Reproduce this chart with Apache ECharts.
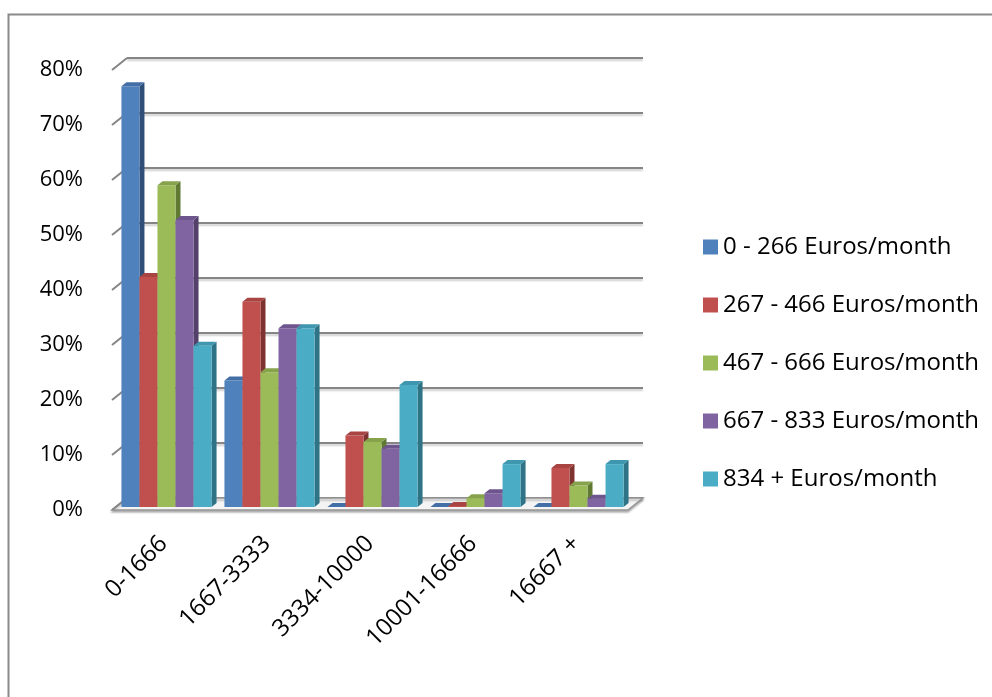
<!DOCTYPE html>
<html>
<head>
<meta charset="utf-8">
<script src="https://cdn.jsdelivr.net/npm/echarts@6/dist/echarts.min.js"></script>
<style>html,body{margin:0;padding:0;background:#fff}#c{width:992px;height:697px}</style>
</head>
<body>
<div id="c"></div>
<script>
var categories = ['0-1666', '1667-3333', '3334-10000', '10001-16666', '16667 +'];
var seriesNames = ['0 - 266 Euros/month', '267 - 466 Euros/month', '467 - 666 Euros/month', '667 - 833 Euros/month', '834 + Euros/month'];
var s0266 = [76.5, 23.0, 0, 0, 0];
var s267466 = [41.8, 37.3, 13.0, 0.2, 7.1];
var s467666 = [58.5, 24.5, 11.8, 1.6, 3.9];
var s667833 = [52.2, 32.5, 10.6, 2.5, 1.5];
var s834 = [29.3, 32.5, 22.2, 7.8, 7.8];
var yTicks = [0, 10, 20, 30, 40, 50, 60, 70, 80];

var seriesValues = [s0266, s267466, s467666, s667833, s834];
var frontColors = ['#4F81BD', '#C0504D', '#9BBB59', '#8064A2', '#4BACC6'];
var topColors = ['#436FA6', '#A84542', '#86A34C', '#6E558D', '#3E97AE'];
var sideColors = ['#2F4F78', '#7E3331', '#607A34', '#54416B', '#2E7386'];

var FONT = '"Open Sans", sans-serif';
var DX = 5, DY = 4;
var chart = echarts.init(document.getElementById('c'), null, {renderer: 'canvas'});

function barRenderer(idx) {
  return function (params, api) {
    var cat = api.value(0), val = api.value(1);
    var base = api.coord([cat, 0]);
    var top = api.coord([cat, val]);
    var band = api.size([1, 0])[0];
    var bw = band * 0.175;
    var x0 = base[0] - bw * 2.5 + idx * bw;
    var yb = base[1], yt = top[1];
    return {
      type: 'group',
      children: [
        {type: 'polygon', shape: {points: [[x0 + bw, yt], [x0 + bw + DX, yt - DY], [x0 + bw + DX, yb - DY], [x0 + bw, yb]]},
          style: {fill: sideColors[idx]}},
        {type: 'rect', shape: {x: x0, y: yt, width: bw, height: yb - yt}, style: {fill: frontColors[idx]}},
        {type: 'polygon', shape: {points: [[x0, yt], [x0 + DX, yt - DY], [x0 + bw + DX, yt - DY], [x0 + bw, yt]]},
          style: {fill: topColors[idx]}}
      ]
    };
  };
}

var series = [];
// back wall decoration: left wall diagonals + floor
series.push({
  type: 'custom', xAxisIndex: 1, yAxisIndex: 1, silent: true, z: 1,
  data: yTicks.map(function (t) { return [0, t]; }),
  renderItem: function (params, api) {
    var cs = params.coordSys;
    var p = api.coord([0, api.value(1)]);
    var x = cs.x, y = p[1];
    var children = [{type: 'line', shape: {x1: x, y1: y, x2: x - 15, y2: y + 12},
      style: {stroke: '#858585', lineWidth: 2}}];
    if (api.value(1) === 0) {
      children.unshift({type: 'polygon', shape: {points: [[x, y], [x + cs.width, y], [x + cs.width - 15, y + 12], [x - 15, y + 12]]},
        style: {fill: '#f4f4f4', stroke: '#949494', lineWidth: 1.5, shadowColor: 'rgba(0,0,0,0.25)', shadowOffsetY: 2, shadowBlur: 2}});
    }
    return {type: 'group', children: children};
  }
});
for (var i = 0; i < 5; i++) {
  series.push({
    name: seriesNames[i], type: 'custom', xAxisIndex: 2, yAxisIndex: 2, z: 3,
    itemStyle: {color: frontColors[i]},
    data: seriesValues[i].map(function (v, k) { return [k, v]; }),
    renderItem: barRenderer(i)
  });
}

chart.setOption({
  animation: false,
  backgroundColor: '#fff',
  graphic: [{type: 'rect', left: 6, top: 12, shape: {width: 1000, height: 700},
    style: {fill: 'none', stroke: '#8a8a8a', lineWidth: 2}}],
  legend: {
    orient: 'vertical', left: 698, top: 230, itemWidth: 15, itemHeight: 15, itemGap: 34,
    icon: 'rect',
    textStyle: {fontFamily: FONT, fontSize: 24, color: '#000', lineHeight: 24},
    data: seriesNames
  },
  grid: [
    {left: 112, right: 364, top: 70, bottom: 187},
    {left: 127, right: 349, top: 58, bottom: 199},
    {left: 115, right: 362, top: 67, bottom: 190}
  ],
  xAxis: [
    {gridIndex: 0, type: 'category', data: categories, axisLine: {show: false}, axisTick: {show: false},
      axisLabel: {rotate: 45, margin: 30, fontFamily: FONT, fontSize: 24, color: '#000', interval: 0}},
    {gridIndex: 1, type: 'category', data: categories, show: false},
    {gridIndex: 2, type: 'category', data: categories, show: false}
  ],
  yAxis: [
    {gridIndex: 0, type: 'value', min: 0, max: 80, interval: 10, splitLine: {show: false},
      axisLine: {show: false}, axisTick: {show: false},
      axisLabel: {margin: 29, fontFamily: FONT, fontSize: 22, color: '#000', formatter: '{value}%'}},
    {gridIndex: 1, type: 'value', min: 0, max: 80, interval: 10, axisLabel: {show: false},
      axisLine: {show: false}, axisTick: {show: false},
      splitLine: {show: true, lineStyle: {color: '#858585', width: 2, shadowColor: 'rgba(0,0,0,0.2)', shadowOffsetY: 2, shadowBlur: 2}}},
    {gridIndex: 2, type: 'value', min: 0, max: 80, interval: 10, show: false}
  ],
  series: series
});
</script>
</body>
</html>
